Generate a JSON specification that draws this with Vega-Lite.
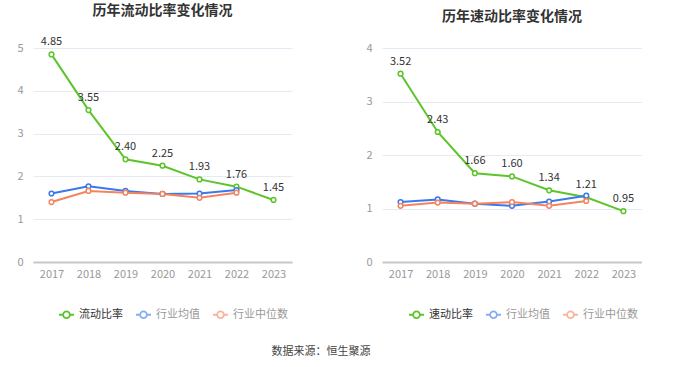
{
  "$schema": "https://vega.github.io/schema/vega-lite/v6.json",
  "background": "white",
  "padding": {"left": 0, "top": 4, "right": 0, "bottom": 0},
  "config": {
    "view": {"stroke": null},
    "font": "Noto Sans CJK SC",
    "axisX": {"labelColor": "#999", "labelFontSize": 11, "domainColor": "#c8c8c8", "domainWidth": 2, "ticks": false, "labelAngle": 0, "grid": false, "title": null, "labelPadding": 6},
    "axisY": {"labelColor": "#999", "labelFontSize": 11, "domain": false, "ticks": false, "gridColor": "#e6eaf4", "title": null, "labelPadding": 10, "minExtent": 33, "maxExtent": 33, "format": "d"},
    "title": {"fontSize": 14, "fontWeight": "bold", "color": "#333", "anchor": "middle"}
  },
  "title": {"text": "数据来源：恒生聚源", "orient": "bottom", "anchor": "middle", "fontSize": 11, "fontWeight": "normal", "color": "#444", "offset": 24},
  "spacing": 57,
  "resolve": {"scale": {"y": "independent", "color": "independent", "x": "independent"}, "legend": {"color": "independent"}},
  "hconcat": [
    {
      "width": 259,
      "height": 214,
      "title": {"text": "历年流动比率变化情况", "offset": 18},
      "data": {"values": [
        {"year": "2017", "series": "流动比率", "value": 4.85},
        {"year": "2018", "series": "流动比率", "value": 3.55},
        {"year": "2019", "series": "流动比率", "value": 2.40},
        {"year": "2020", "series": "流动比率", "value": 2.25},
        {"year": "2021", "series": "流动比率", "value": 1.93},
        {"year": "2022", "series": "流动比率", "value": 1.76},
        {"year": "2023", "series": "流动比率", "value": 1.45},
        {"year": "2017", "series": "行业均值", "value": 1.60},
        {"year": "2018", "series": "行业均值", "value": 1.77},
        {"year": "2019", "series": "行业均值", "value": 1.66},
        {"year": "2020", "series": "行业均值", "value": 1.59},
        {"year": "2021", "series": "行业均值", "value": 1.60},
        {"year": "2022", "series": "行业均值", "value": 1.68},
        {"year": "2017", "series": "行业中位数", "value": 1.40},
        {"year": "2018", "series": "行业中位数", "value": 1.66},
        {"year": "2019", "series": "行业中位数", "value": 1.62},
        {"year": "2020", "series": "行业中位数", "value": 1.59},
        {"year": "2021", "series": "行业中位数", "value": 1.50},
        {"year": "2022", "series": "行业中位数", "value": 1.62}
      ]},
      "layer": [
        {
          "mark": {"type": "line", "strokeWidth": 2, "point": {"filled": false, "fill": "white", "size": 22, "strokeWidth": 1.5}},
          "encoding": {
            "x": {"field": "year", "type": "ordinal", "scale": {"type": "point", "padding": 0.5, "domain": ["2017","2018","2019","2020","2021","2022","2023"]}},
            "y": {"field": "value", "type": "quantitative", "scale": {"domain": [0, 5], "nice": false}, "axis": {"values": [0,1,2,3,4,5]}},
            "color": {"field": "series", "type": "nominal",
              "scale": {"domain": ["流动比率", "行业均值", "行业中位数"], "range": ["#5bc52a", "#3a78ec", "#f4845f"]},
              "legend": {"title": null, "orient": "none", "direction": "horizontal", "legendX": 25, "legendY": 258,
                "symbolType": "M -1 0 L -0.45 0 M 0.45 0 L 1 0 M -0.45 0 A 0.45 0.45 0 1 1 0.45 0 A 0.45 0.45 0 1 1 -0.45 0",
                "symbolSize": 225, "symbolStrokeWidth": 1.8, "labelFontSize": 11, "labelOffset": 4, "columnPadding": 9,
                "encode": {
                  "labels": {"update": {"fill": {"signal": "datum.label === '流动比率' ? '#333' : '#999'"}}},
                  "symbols": {"update": {"opacity": {"signal": "datum.label === '流动比率' ? 1 : 0.6"}, "fill": {"value": "white"}}}
                }}
            }
          }
        },
        {
          "transform": [{"filter": "datum.series === '流动比率'"}],
          "mark": {"type": "text", "dy": -12, "fontSize": 11, "color": "#333"},
          "encoding": {
            "x": {"field": "year", "type": "ordinal"},
            "y": {"field": "value", "type": "quantitative"},
            "text": {"field": "value", "type": "quantitative", "format": ".2f"}
          }
        }
      ]
    },
    {
      "width": 260,
      "height": 214,
      "title": {"text": "历年速动比率变化情况", "offset": 18},
      "data": {"values": [
        {"year": "2017", "series": "速动比率", "value": 3.52},
        {"year": "2018", "series": "速动比率", "value": 2.43},
        {"year": "2019", "series": "速动比率", "value": 1.66},
        {"year": "2020", "series": "速动比率", "value": 1.60},
        {"year": "2021", "series": "速动比率", "value": 1.34},
        {"year": "2022", "series": "速动比率", "value": 1.21},
        {"year": "2023", "series": "速动比率", "value": 0.95},
        {"year": "2017", "series": "行业均值", "value": 1.12},
        {"year": "2018", "series": "行业均值", "value": 1.17},
        {"year": "2019", "series": "行业均值", "value": 1.09},
        {"year": "2020", "series": "行业均值", "value": 1.05},
        {"year": "2021", "series": "行业均值", "value": 1.13},
        {"year": "2022", "series": "行业均值", "value": 1.24},
        {"year": "2017", "series": "行业中位数", "value": 1.05},
        {"year": "2018", "series": "行业中位数", "value": 1.11},
        {"year": "2019", "series": "行业中位数", "value": 1.09},
        {"year": "2020", "series": "行业中位数", "value": 1.12},
        {"year": "2021", "series": "行业中位数", "value": 1.05},
        {"year": "2022", "series": "行业中位数", "value": 1.14}
      ]},
      "layer": [
        {
          "mark": {"type": "line", "strokeWidth": 2, "point": {"filled": false, "fill": "white", "size": 22, "strokeWidth": 1.5}},
          "encoding": {
            "x": {"field": "year", "type": "ordinal", "scale": {"type": "point", "padding": 0.5, "domain": ["2017","2018","2019","2020","2021","2022","2023"]}},
            "y": {"field": "value", "type": "quantitative", "scale": {"domain": [0, 4], "nice": false}, "axis": {"values": [0,1,2,3,4]}},
            "color": {"field": "series", "type": "nominal",
              "scale": {"domain": ["速动比率", "行业均值", "行业中位数"], "range": ["#5bc52a", "#3a78ec", "#f4845f"]},
              "legend": {"title": null, "orient": "none", "direction": "horizontal", "legendX": 26, "legendY": 258,
                "symbolType": "M -1 0 L -0.45 0 M 0.45 0 L 1 0 M -0.45 0 A 0.45 0.45 0 1 1 0.45 0 A 0.45 0.45 0 1 1 -0.45 0",
                "symbolSize": 225, "symbolStrokeWidth": 1.8, "labelFontSize": 11, "labelOffset": 4, "columnPadding": 9,
                "encode": {
                  "labels": {"update": {"fill": {"signal": "datum.label === '速动比率' ? '#333' : '#999'"}}},
                  "symbols": {"update": {"opacity": {"signal": "datum.label === '速动比率' ? 1 : 0.6"}, "fill": {"value": "white"}}}
                }}
            }
          }
        },
        {
          "transform": [{"filter": "datum.series === '速动比率'"}],
          "mark": {"type": "text", "dy": -12, "fontSize": 11, "color": "#333"},
          "encoding": {
            "x": {"field": "year", "type": "ordinal"},
            "y": {"field": "value", "type": "quantitative"},
            "text": {"field": "value", "type": "quantitative", "format": ".2f"}
          }
        }
      ]
    }
  ]
}
